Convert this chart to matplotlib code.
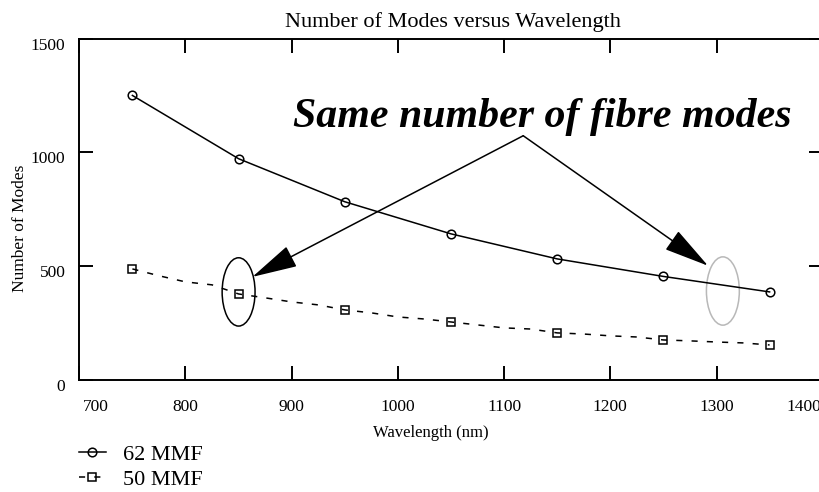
import matplotlib.pyplot as plt
import numpy as np
from matplotlib.patches import Ellipse
from matplotlib.transforms import ScaledTranslation

plt.rcParams['font.family'] = ['Liberation Serif', 'DejaVu Serif']

# 62.5 um multimode fibre, markers every 100 nm
wl_62 = [750, 850, 950, 1050, 1150, 1250, 1350]
modes_62 = [1250, 972, 783, 642, 532, 455, 387]

# 50 um multimode fibre, curve sampled every 25 nm (marker every 4th point)
wl_50 = [750, 775, 800, 825, 850, 875, 900, 925, 950, 975, 1000, 1025, 1050,
         1075, 1100, 1125, 1150, 1175, 1200, 1225, 1250, 1275, 1300, 1325, 1350]
modes_50 = [488, 458, 431, 418, 378, 361, 343, 330, 308, 295, 277, 268, 255,
            242, 229, 224, 207, 202, 194, 189, 176, 172, 167, 163, 154]

x_ticks = [700, 800, 900, 1000, 1100, 1200, 1300, 1400]
y_ticks = [0, 500, 1000, 1500]

fig = plt.figure(figsize=(8.2, 4.92), dpi=100)
ax = fig.add_axes([0.0967, 0.2276, 0.9066, 0.6941])

l62, = ax.plot(wl_62, modes_62, color='black', lw=1.1, marker='o', ms=6.2,
               mfc='none', mec='black', mew=1.1, label='62 MMF')
l50, = ax.plot(wl_50, modes_50, color='black', lw=1.1, dashes=(4, 6),
               marker='s', ms=5.5, mfc='none', mec='black', mew=1.1,
               markevery=4, label='50 MMF')

ax.set_xlim(700, 1400)
ax.set_ylim(0, 1500)
ax.set_xticks(x_ticks)
ax.set_yticks(y_ticks)
ax.tick_params(direction='in', length=10, width=1.4, top=True, right=True,
               labelsize=12.5)
ax.tick_params(axis='x', pad=14)
ax.tick_params(axis='y', pad=10)
for sp in ax.spines.values():
    sp.set_linewidth(1.4)

# tick label nudges like the original
for lab in ax.get_yticklabels():
    lab.set_transform(lab.get_transform() + ScaledTranslation(0, -0.05, fig.dpi_scale_trans))
xl = ax.get_xticklabels()
xl[0].set_transform(xl[0].get_transform() + ScaledTranslation(0.17, 0, fig.dpi_scale_trans))
xl[-1].set_transform(xl[-1].get_transform() + ScaledTranslation(-0.185, 0, fig.dpi_scale_trans))

ax.set_xlabel('Wavelength (nm)', fontsize=12)
ax.xaxis.set_label_coords(0.473, -0.132)
ax.set_ylabel('Number of Modes', fontsize=12.5)
ax.yaxis.set_label_coords(-0.069, 0.445)
fig.text(453 / 820, 1 - 27 / 492, 'Number of Modes versus Wavelength',
         ha='center', va='baseline', fontsize=16)

# annotation
apex = (1118, 1073)
ax.text(901, 1112, 'Same number of fibre modes', fontsize=30.2,
        fontweight='bold', fontstyle='italic', ha='left', va='baseline')
for tip in [(863, 453), (1292, 502)]:
    ax.annotate('', xy=tip, xytext=apex,
                arrowprops=dict(arrowstyle='-|>,head_length=2.88,head_width=0.72',
                                mutation_scale=10, lw=1.1, color='black',
                                shrinkA=0, shrinkB=0))
ax.add_patch(Ellipse((850, 387), 31, 300, fill=False, ec='black', lw=1.1))
ax.add_patch(Ellipse((1306, 391), 31, 300, fill=False, ec='#b8b8b8', lw=1.1))

ax.legend(handles=[l62, l50], loc='upper left', bbox_to_anchor=(79 / 820, 1 - 444 / 492),
          bbox_transform=fig.transFigure, frameon=False, fontsize=16,
          handlelength=1.2, handletextpad=0.8, labelspacing=0.22,
          borderpad=0, borderaxespad=0, numpoints=1)

fig.savefig('out.png', dpi=100)
